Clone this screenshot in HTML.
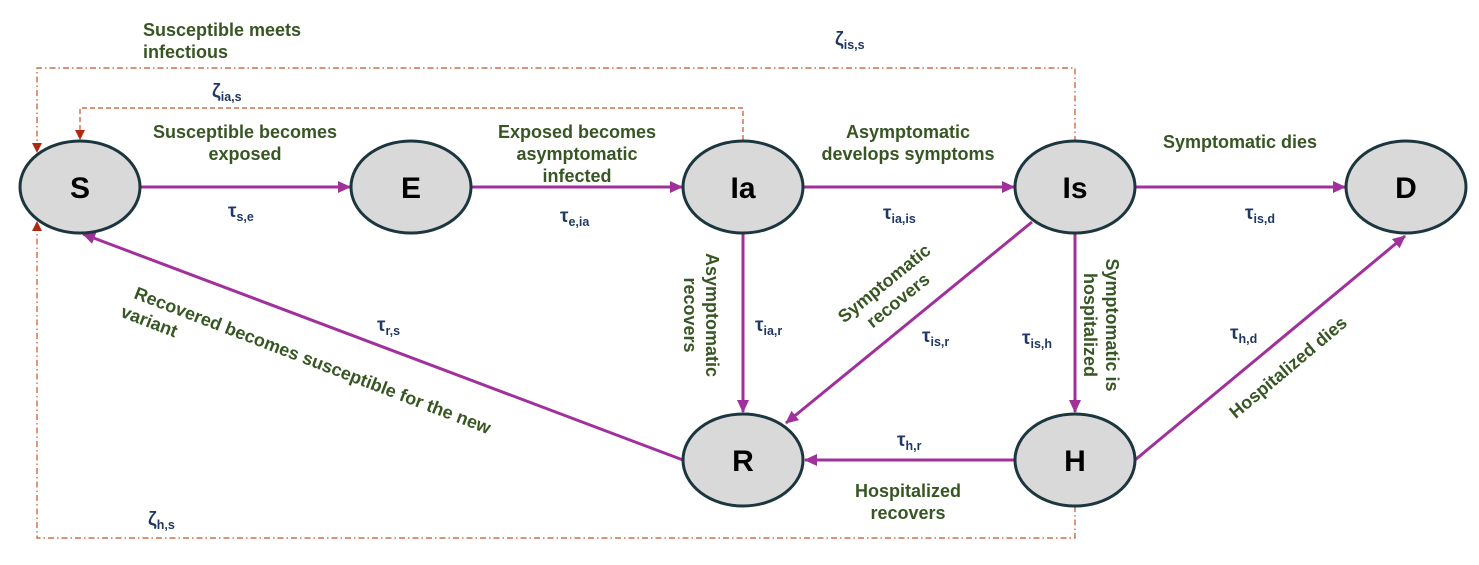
<!DOCTYPE html>
<html><head><meta charset="utf-8"><style>
html,body{margin:0;padding:0;background:#fff;}
svg{display:block;font-family:"Liberation Sans",Arial,sans-serif;}
.g{fill:#375623;font-weight:bold;font-size:18px;}
.t{fill:#1f3864;font-weight:bold;font-size:19px;}
.t tspan.s{font-size:12.5px;}
.n{font-size:30px;font-weight:bold;fill:#000;}
</style></head><body>
<svg width="1479" height="565" viewBox="0 0 1479 565" xmlns="http://www.w3.org/2000/svg">
<defs>
<marker id="a" markerWidth="13" markerHeight="12" refX="12" refY="6" orient="auto" markerUnits="userSpaceOnUse"><path d="M0,0 L13,6 L0,12 z" fill="#a0309a"/></marker>
<marker id="r" markerWidth="10" markerHeight="10" refX="9" refY="5" orient="auto" markerUnits="userSpaceOnUse"><path d="M0,0 L10,5 L0,10 z" fill="#b02a10"/></marker>
</defs>
<g fill="none" stroke="#c8502a" stroke-width="1.2">
<path d="M1075,142 V68 H37 V152" stroke-dasharray="6,3,1.5,3" marker-end="url(#r)"/>
<path d="M743,140 V108 H80 V139" stroke-dasharray="5,3" marker-end="url(#r)"/>
<path d="M1075,506 V538 H37 V222" stroke-dasharray="6,3,1.5,3" marker-end="url(#r)"/>
</g>
<g stroke="#a0309a" stroke-width="3" fill="none">
<line x1="140" y1="187" x2="350" y2="187" marker-end="url(#a)"/>
<line x1="472" y1="187" x2="682" y2="187" marker-end="url(#a)"/>
<line x1="803" y1="187" x2="1014" y2="187" marker-end="url(#a)"/>
<line x1="1135" y1="187" x2="1345" y2="187" marker-end="url(#a)"/>
<line x1="743" y1="233" x2="743" y2="412" marker-end="url(#a)"/>
<line x1="1075" y1="233" x2="1075" y2="412" marker-end="url(#a)"/>
<line x1="1032" y1="222" x2="786" y2="423" marker-end="url(#a)"/>
<line x1="1135" y1="460" x2="1405" y2="236" marker-end="url(#a)"/>
<line x1="1015" y1="460" x2="805" y2="460" marker-end="url(#a)"/>
<line x1="683" y1="460" x2="83" y2="234" marker-end="url(#a)"/>
</g>
<g fill="#d9d9d9" stroke="#1c3640" stroke-width="3">
<ellipse cx="80" cy="187" rx="60" ry="46"/>
<ellipse cx="411" cy="187" rx="60" ry="46"/>
<ellipse cx="743" cy="187" rx="60" ry="46"/>
<ellipse cx="1075" cy="187" rx="60" ry="46"/>
<ellipse cx="1406" cy="187" rx="60" ry="46"/>
<ellipse cx="743" cy="460" rx="60" ry="46"/>
<ellipse cx="1075" cy="460" rx="60" ry="46"/>
</g>
<g class="n" text-anchor="middle">
<text x="80" y="198">S</text><text x="411" y="198">E</text><text x="743" y="198">Ia</text>
<text x="1075" y="198">Is</text><text x="1406" y="198">D</text><text x="743" y="471">R</text><text x="1075" y="471">H</text>
</g>
<g class="g">
<text x="143" y="36">Susceptible meets</text><text x="143" y="58">infectious</text>
<text x="245" y="138" text-anchor="middle">Susceptible becomes</text><text x="245" y="160" text-anchor="middle">exposed</text>
<text x="577" y="138" text-anchor="middle">Exposed becomes</text><text x="577" y="160" text-anchor="middle">asymptomatic</text><text x="577" y="182" text-anchor="middle">infected</text>
<text x="908" y="138" text-anchor="middle">Asymptomatic</text><text x="908" y="160" text-anchor="middle">develops symptoms</text>
<text x="1240" y="148" text-anchor="middle">Symptomatic dies</text>
<text x="908" y="497" text-anchor="middle">Hospitalized</text><text x="908" y="519" text-anchor="middle">recovers</text>
<g transform="translate(706,315) rotate(90)" text-anchor="middle"><text x="0" y="0">Asymptomatic</text><text x="0" y="22">recovers</text></g>
<g transform="translate(1106,325) rotate(90)" text-anchor="middle"><text x="0" y="0">Symptomatic is</text><text x="0" y="22">hospitalized</text></g>
<g transform="translate(888,288) rotate(-39)" text-anchor="middle"><text x="0" y="0">Symptomatic</text><text x="0" y="22">recovers</text></g>
<g transform="translate(1292,372) rotate(-40)" text-anchor="middle"><text x="0" y="0">Hospitalized dies</text></g>
<g transform="translate(133,298) rotate(21)"><text x="0" y="0">Recovered becomes susceptible for the new</text><text x="-6" y="22">variant</text></g>
</g>
<g class="t">
<text x="835" y="45">ζ<tspan class="s" dy="4">is,s</tspan></text>
<text x="212" y="97">ζ<tspan class="s" dy="4">ia,s</tspan></text>
<text x="148" y="525">ζ<tspan class="s" dy="4">h,s</tspan></text>
<text x="228" y="217">τ<tspan class="s" dy="4">s,e</tspan></text>
<text x="560" y="222">τ<tspan class="s" dy="4">e,ia</tspan></text>
<text x="883" y="219">τ<tspan class="s" dy="4">ia,is</tspan></text>
<text x="1245" y="219">τ<tspan class="s" dy="4">is,d</tspan></text>
<text x="377" y="331">τ<tspan class="s" dy="4">r,s</tspan></text>
<text x="755" y="331">τ<tspan class="s" dy="4">ia,r</tspan></text>
<text x="922" y="342">τ<tspan class="s" dy="4">is,r</tspan></text>
<text x="1022" y="344">τ<tspan class="s" dy="4">is,h</tspan></text>
<text x="1230" y="339">τ<tspan class="s" dy="4">h,d</tspan></text>
<text x="897" y="446">τ<tspan class="s" dy="4">h,r</tspan></text>
</g>
</svg>
</body></html>
